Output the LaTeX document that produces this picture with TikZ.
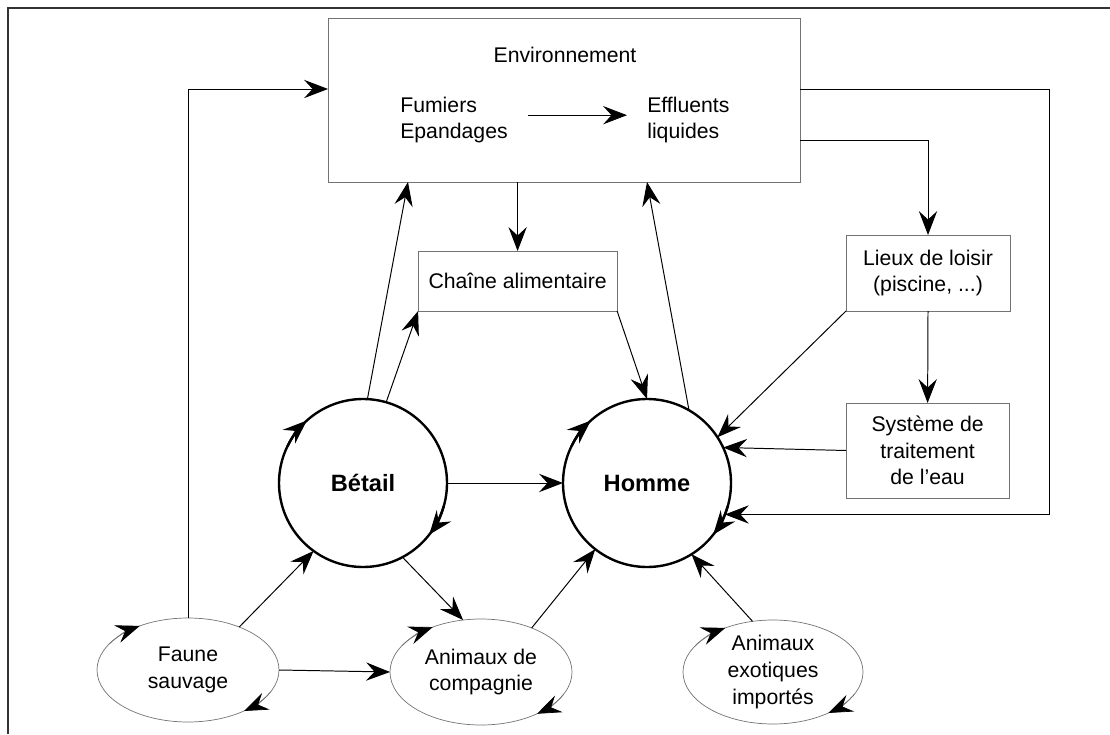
\documentclass[tikz,border=0pt]{standalone}
\usepackage{fontspec}
\setmainfont{Liberation Sans}
\usetikzlibrary{arrows.meta,shapes.geometric}

\begin{document}
\begin{tikzpicture}[
    arr/.style={-{Stealth[length=17pt,width=13pt,inset=6pt]}, line width=0.7pt},
    cyc/.style={-{Stealth[length=17pt,width=13pt,inset=6pt,black]}},
    ecyc/.style={cyc, draw=black!55, line width=0.5pt},
    box/.style={draw=black!55, line width=0.6pt, inner sep=0pt, outer sep=0pt, align=center, font=\fontsize{15.1}{19}\selectfont},
    hub/.style={circle, draw, line width=1.7pt, minimum size=4.2cm, inner sep=0pt, outer sep=0pt, font=\fontsize{16.8}{20}\selectfont\bfseries},
    pool/.style={ellipse, draw=black!55, line width=0.5pt, inner sep=0pt, outer sep=0pt, minimum width=4.55cm, minimum height=2.6cm, align=center, font=\fontsize{15.1}{19}\selectfont},
    txt/.style={inner sep=0pt, align=left, font=\fontsize{15.1}{18.5}\selectfont}
  ]
  \useasboundingbox (0,0) rectangle (27.75,18.35);
  \draw [line width=0.8pt, black!80] (0.2,0) -- (0.2,18.15) -- (27.75,18.15);  % frame, cut at right and bottom

  % environnement block
  \node (env) [box, minimum width=11.8cm, minimum height=4.1cm] at (14.1,15.85) {};
  \node (envtitle) [txt] at (14.125,16.975) {Environnement};
  \node (fum) [txt, anchor=west] at (10.0,15.35) {Fumiers\\Epandages};
  \node (eff) [txt, anchor=west] at (16.175,15.35) {Effluents\\liquides};
  \draw [arr] ([xshift=0.5cm,yshift=0.12cm]fum.east) -- ([xshift=-0.5cm,yshift=0.12cm]eff.west);
  \coordinate (envin) at (8.2,16.125);
  \coordinate (envout) at (20.0,16.125);
  \coordinate (envlow) at (20.0,14.85);

  \node (chain) [box, minimum width=4.975cm, minimum height=1.5cm] at (12.94,11.325) {Chaîne alimentaire};
  \node (lieux) [box, minimum width=4.1cm, minimum height=1.9cm] at (23.2,11.525) {Lieux de loisir\\(piscine, ...)};
  \node (sys) [box, minimum width=4.075cm, minimum height=2.375cm] at (23.19,7.0875) {Système de\\traitement\\de l'eau};

  \node (betail) [hub] at (9.075,6.275) {Bétail};
  \node (homme) [hub] at (16.175,6.275) {Homme};

  \node (faune) [pool] at (4.7,1.6) {Faune\\sauvage};
  \node (comp) [pool, minimum height=2.65cm] at (12.025,1.55) {Animaux de\\compagnie};
  \node (exot) [pool, minimum width=4.5cm] at (19.325,1.55) {Animaux\\exotiques\\importés};

  % cycles -- TODO: check arc lengths
  \foreach \n in {betail,homme} {
    \draw [cyc, line width=1.7pt] (\n.154) arc[start angle=154, end angle=132, radius=2.1cm];
    \draw [cyc, line width=1.7pt] (\n.-16) arc[start angle=-16, end angle=-38, radius=2.1cm];
  }
  \draw [ecyc] (faune.center) ++(150:2.275cm and 1.3cm) arc[start angle=150, end angle=122, x radius=2.275cm, y radius=1.3cm];
  \draw [ecyc] (faune.center) ++(-25:2.275cm and 1.3cm) arc[start angle=-25, end angle=-52, x radius=2.275cm, y radius=1.3cm];
  \draw [ecyc] (comp.center) ++(150:2.275cm and 1.325cm) arc[start angle=150, end angle=122, x radius=2.275cm, y radius=1.325cm];
  \draw [ecyc] (comp.center) ++(-25:2.275cm and 1.325cm) arc[start angle=-25, end angle=-52, x radius=2.275cm, y radius=1.325cm];
  \draw [ecyc] (exot.center) ++(150:2.25cm and 1.3cm) arc[start angle=150, end angle=122, x radius=2.25cm, y radius=1.3cm];
  \draw [ecyc] (exot.center) ++(-25:2.25cm and 1.3cm) arc[start angle=-25, end angle=-52, x radius=2.25cm, y radius=1.3cm];

  % transmission paths
  \draw [arr] (faune.north) |- (envin);
  \draw [arr] (envout) -- ++(6.225,0) |- (homme.-22);
  \draw [arr] (envlow) -| (lieux.north);
  \draw [arr] (chain.north |- env.south) -- (chain.north);
  \draw [arr] (betail.87) -- ([xshift=2cm]env.south west);
  \draw [arr] (betail.74) -- (chain.south west);
  \draw [arr] (chain.south east) -- (homme.north);
  \draw [arr] (homme.60) -- (eff.west |- env.south);
  \draw [arr] (lieux.south) -- (sys.north);
  \draw [arr] (lieux.south west) -- (homme.33);
  \draw [arr] (sys.west) -- (homme.25);
  \draw [arr] (betail.east) -- (homme.west);
  \draw [arr] (faune.40) -- (betail.234);
  \draw [arr] (faune.east) -- (comp.west);
  \draw [arr] (betail.-62) -- (comp.109);
  \draw [arr] (comp.41) -- (homme.232);
  \draw [arr] (exot.112) -- (homme.-58);
\end{tikzpicture}
\end{document}
